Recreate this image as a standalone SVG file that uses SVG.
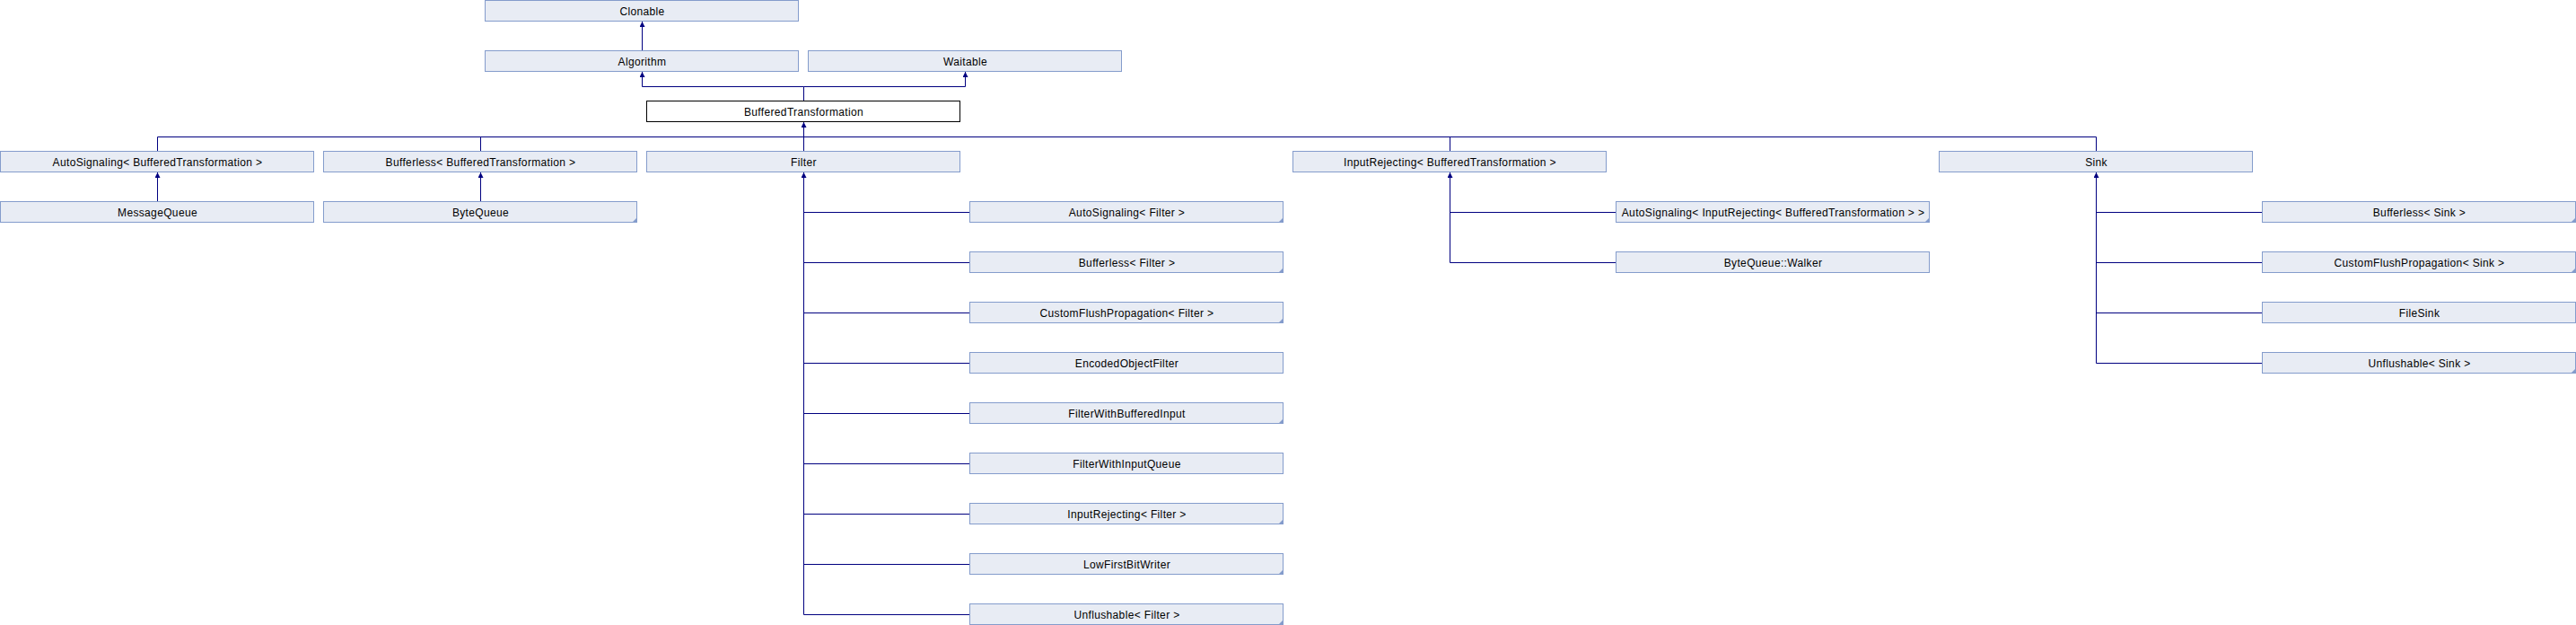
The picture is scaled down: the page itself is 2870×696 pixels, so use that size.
<svg xmlns="http://www.w3.org/2000/svg" width="2870" height="696" viewBox="0 0 2870 696">
<style>
.box{fill:#E8ECF4;stroke:#849CCC;stroke-width:1}
.main{fill:#FFFFFF;stroke:#000000;stroke-width:1}
.corner{fill:#849CCC;stroke:none}
.lbl{font-family:"Liberation Sans",Arial,sans-serif;font-size:12px;letter-spacing:0.35px;fill:#000000;text-anchor:middle}
.edge{fill:none;stroke:#000080;stroke-width:1}
</style>
<defs>
<marker id="arr" viewBox="0 0 10 10" refX="10" refY="5" markerUnits="userSpaceOnUse" markerWidth="6" markerHeight="6" orient="auto">
<path d="M0,0 L10,5 L0,10 z" fill="#000080"/>
</marker>
</defs>
<rect width="2870" height="696" fill="#FFFFFF"/>
<g id="connectors">
<path class="edge" d="M715.5 56.5 V24" marker-end="url(#arr)"/>
<path class="edge" d="M895.5 112.5 V96.5 H715.5"/>
<path class="edge" d="M715.5 96.5 V80" marker-end="url(#arr)"/>
<path class="edge" d="M895.5 96.5 H1075.5 V80" marker-end="url(#arr)"/>
<path class="edge" d="M175.5 168.5 V152.5 H2335.5 V168.5"/>
<path class="edge" d="M535.5 168.5 V152.5"/>
<path class="edge" d="M1615.5 168.5 V152.5"/>
<path class="edge" d="M895.5 168.5 V136" marker-end="url(#arr)"/>
<path class="edge" d="M175.5 224.5 V192" marker-end="url(#arr)"/>
<path class="edge" d="M535.5 224.5 V192" marker-end="url(#arr)"/>
<path class="edge" d="M895.5 684.5 V192" marker-end="url(#arr)"/>
<path class="edge" d="M895.5 236.5 H1080.5 M895.5 292.5 H1080.5 M895.5 348.5 H1080.5 M895.5 404.5 H1080.5 M895.5 460.5 H1080.5 M895.5 516.5 H1080.5 M895.5 572.5 H1080.5 M895.5 628.5 H1080.5 M895.5 684.5 H1080.5"/>
<path class="edge" d="M1615.5 292.5 V192" marker-end="url(#arr)"/>
<path class="edge" d="M1615.5 236.5 H1800.5 M1615.5 292.5 H1800.5"/>
<path class="edge" d="M2335.5 404.5 V192" marker-end="url(#arr)"/>
<path class="edge" d="M2335.5 236.5 H2520.5 M2335.5 292.5 H2520.5 M2335.5 348.5 H2520.5 M2335.5 404.5 H2520.5"/>
</g>
<g id="clonable"><rect class="box" x="540.5" y="0.5" width="349" height="23"/><text class="lbl" x="715.5" y="16.5">Clonable</text></g>
<g id="algorithm"><rect class="box" x="540.5" y="56.5" width="349" height="23"/><text class="lbl" x="715.5" y="72.5">Algorithm</text></g>
<g id="waitable"><rect class="box" x="900.5" y="56.5" width="349" height="23"/><text class="lbl" x="1075.5" y="72.5">Waitable</text></g>
<g id="bufferedtransformation"><rect class="main" x="720.5" y="112.5" width="349" height="23"/><text class="lbl" x="895.5" y="128.5">BufferedTransformation</text></g>
<g id="autosignaling_bt"><rect class="box" x="0.5" y="168.5" width="349" height="23"/><text class="lbl" x="175.5" y="184.5">AutoSignaling&lt; BufferedTransformation &gt;</text></g>
<g id="bufferless_bt"><rect class="box" x="360.5" y="168.5" width="349" height="23"/><text class="lbl" x="535.5" y="184.5">Bufferless&lt; BufferedTransformation &gt;</text></g>
<g id="filter"><rect class="box" x="720.5" y="168.5" width="349" height="23"/><text class="lbl" x="895.5" y="184.5">Filter</text></g>
<g id="inputrejecting_bt"><rect class="box" x="1440.5" y="168.5" width="349" height="23"/><text class="lbl" x="1615.5" y="184.5">InputRejecting&lt; BufferedTransformation &gt;</text></g>
<g id="sink"><rect class="box" x="2160.5" y="168.5" width="349" height="23"/><text class="lbl" x="2335.5" y="184.5">Sink</text></g>
<g id="messagequeue"><rect class="box" x="0.5" y="224.5" width="349" height="23"/><text class="lbl" x="175.5" y="240.5">MessageQueue</text></g>
<g id="bytequeue"><rect class="box" x="360.5" y="224.5" width="349" height="23"/><path class="corner" d="M710 242 V248 H704 z"/><text class="lbl" x="535.5" y="240.5">ByteQueue</text></g>
<g id="autosignaling_filter"><rect class="box" x="1080.5" y="224.5" width="349" height="23"/><path class="corner" d="M1430 242 V248 H1424 z"/><text class="lbl" x="1255.5" y="240.5">AutoSignaling&lt; Filter &gt;</text></g>
<g id="bufferless_filter"><rect class="box" x="1080.5" y="280.5" width="349" height="23"/><path class="corner" d="M1430 298 V304 H1424 z"/><text class="lbl" x="1255.5" y="296.5">Bufferless&lt; Filter &gt;</text></g>
<g id="customflushpropagation_filter"><rect class="box" x="1080.5" y="336.5" width="349" height="23"/><path class="corner" d="M1430 354 V360 H1424 z"/><text class="lbl" x="1255.5" y="352.5">CustomFlushPropagation&lt; Filter &gt;</text></g>
<g id="encodedobjectfilter"><rect class="box" x="1080.5" y="392.5" width="349" height="23"/><text class="lbl" x="1255.5" y="408.5">EncodedObjectFilter</text></g>
<g id="filterwithbufferedinput"><rect class="box" x="1080.5" y="448.5" width="349" height="23"/><path class="corner" d="M1430 466 V472 H1424 z"/><text class="lbl" x="1255.5" y="464.5">FilterWithBufferedInput</text></g>
<g id="filterwithinputqueue"><rect class="box" x="1080.5" y="504.5" width="349" height="23"/><text class="lbl" x="1255.5" y="520.5">FilterWithInputQueue</text></g>
<g id="inputrejecting_filter"><rect class="box" x="1080.5" y="560.5" width="349" height="23"/><path class="corner" d="M1430 578 V584 H1424 z"/><text class="lbl" x="1255.5" y="576.5">InputRejecting&lt; Filter &gt;</text></g>
<g id="lowfirstbitwriter"><rect class="box" x="1080.5" y="616.5" width="349" height="23"/><path class="corner" d="M1430 634 V640 H1424 z"/><text class="lbl" x="1255.5" y="632.5">LowFirstBitWriter</text></g>
<g id="unflushable_filter"><rect class="box" x="1080.5" y="672.5" width="349" height="23"/><path class="corner" d="M1430 690 V696 H1424 z"/><text class="lbl" x="1255.5" y="688.5">Unflushable&lt; Filter &gt;</text></g>
<g id="autosignaling_inputrejecting"><rect class="box" x="1800.5" y="224.5" width="349" height="23"/><path class="corner" d="M2150 242 V248 H2144 z"/><text class="lbl" x="1975.5" y="240.5">AutoSignaling&lt; InputRejecting&lt; BufferedTransformation &gt; &gt;</text></g>
<g id="bytequeue_walker"><rect class="box" x="1800.5" y="280.5" width="349" height="23"/><text class="lbl" x="1975.5" y="296.5">ByteQueue::Walker</text></g>
<g id="bufferless_sink"><rect class="box" x="2520.5" y="224.5" width="349" height="23"/><path class="corner" d="M2870 242 V248 H2864 z"/><text class="lbl" x="2695.5" y="240.5">Bufferless&lt; Sink &gt;</text></g>
<g id="customflushpropagation_sink"><rect class="box" x="2520.5" y="280.5" width="349" height="23"/><path class="corner" d="M2870 298 V304 H2864 z"/><text class="lbl" x="2695.5" y="296.5">CustomFlushPropagation&lt; Sink &gt;</text></g>
<g id="filesink"><rect class="box" x="2520.5" y="336.5" width="349" height="23"/><text class="lbl" x="2695.5" y="352.5">FileSink</text></g>
<g id="unflushable_sink"><rect class="box" x="2520.5" y="392.5" width="349" height="23"/><path class="corner" d="M2870 410 V416 H2864 z"/><text class="lbl" x="2695.5" y="408.5">Unflushable&lt; Sink &gt;</text></g>
</svg>
